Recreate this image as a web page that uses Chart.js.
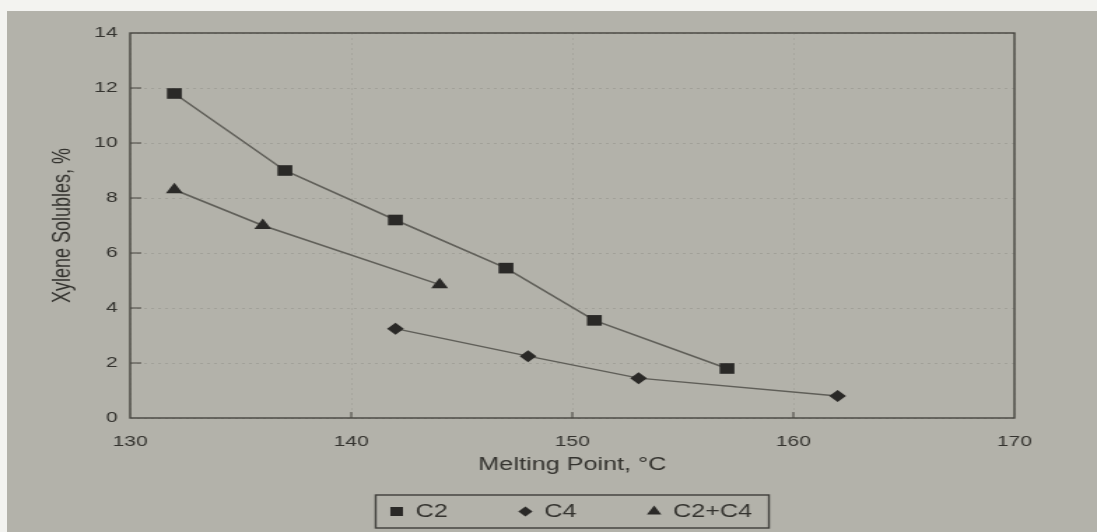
<!DOCTYPE html>
<html>
<head>
<meta charset="utf-8">
<title>Xylene Solubles vs Melting Point</title>
<script src="https://cdn.jsdelivr.net/npm/chart.js@4/dist/chart.umd.min.js"></script>
<style>
  html, body { margin: 0; padding: 0; width: 1097px; height: 532px; overflow: hidden; background: #f3f3f0; }
  /* foglio grigio della scansione */
  #foglio { position: absolute; left: 7px; top: 11px; right: 0; bottom: 0; background: #b3b2aa; }
  /* il grafico originale e' allargato in orizzontale */
  #contenitore { position: absolute; left: 7px; top: 11px; width: 779px; height: 521px;
                 transform: scaleX(1.3992); transform-origin: 0 0; }
</style>
</head>
<body>
<div id="foglio"></div>
<div id="contenitore"><canvas id="grafico"></canvas></div>
<script>
// Punto di fusione (°C) e xilene solubili (%) per ogni comonomero
const fusioneC2 = [132, 137, 142, 147, 151, 157];
const solubiliC2 = [11.8, 9.0, 7.2, 5.45, 3.55, 1.8];
const fusioneC4 = [142, 148, 153, 162];
const solubiliC4 = [3.25, 2.25, 1.45, 0.8];
const fusioneC2C4 = [132, 136, 144];
const solubiliC2C4 = [8.3, 7.0, 4.85];

const ticksX = [130, 140, 150, 160, 170];
const ticksY = [0, 2, 4, 6, 8, 10, 12, 14];

const FONT = '"Liberation Sans", Arial, sans-serif';
const COLORE_TESTO = '#34332f';
const COLORE_LINEA = '#5f5e58';
const COLORE_SIMBOLO = '#2a2927';

Chart.defaults.font.family = FONT;
Chart.defaults.color = COLORE_TESTO;

// Coppie {x, y} per ogni serie
function punti(xs, ys) {
    return xs.map((x, i) => ({ x: x, y: ys[i] }));
}

// Cornice del grafico e tacche interne sugli assi
const cornice = {
    id: 'cornice',
    beforeDatasetsDraw(chart) {
        const { ctx, chartArea: a, scales } = chart;
        ctx.save();
        ctx.strokeStyle = '#46453f';
        ctx.lineWidth = 1.4;
        ctx.strokeRect(a.left, a.top, a.right - a.left, a.bottom - a.top);
        ctx.lineWidth = 1;
        ctx.beginPath();
        ticksY.slice(1, -1).forEach(v => {
            const y = scales.y.getPixelForValue(v);
            ctx.moveTo(a.left, y);
            ctx.lineTo(a.left + 8, y);
        });
        ticksX.slice(1, -1).forEach(v => {
            const x = scales.x.getPixelForValue(v);
            ctx.moveTo(x, a.bottom);
            ctx.lineTo(x, a.bottom - 6);
        });
        ctx.stroke();
        ctx.restore();
    }
};

// Legenda in un riquadro sotto il titolo dell'asse x
const legendaRiquadro = {
    id: 'legendaRiquadro',
    afterDraw(chart) {
        const { ctx, chartArea: a } = chart;
        ctx.save();
        ctx.font = '18px ' + FONT;
        const voci = chart.data.datasets.map(ds => ({ ds: ds, w: ctx.measureText(ds.label).width }));
        const margineSx = 9.5, simbolo = 19, spazio = 50, margineDx = 12, alto = 33;
        let larghezza = margineSx + margineDx;
        voci.forEach((v, i) => {
            larghezza += simbolo + v.w + (i < voci.length - 1 ? spazio : 0);
        });
        const x0 = (a.left + a.right) / 2 - larghezza / 2;
        const y0 = chart.height - 37;
        ctx.strokeStyle = '#3f3e3a';
        ctx.lineWidth = 1.4;
        ctx.strokeRect(x0, y0, larghezza, alto);

        const yc = y0 + alto / 2;
        let x = x0 + margineSx;
        voci.forEach(v => {
            ctx.fillStyle = COLORE_SIMBOLO;
            Chart.helpers.drawPoint(ctx, {
                pointStyle: v.ds.pointStyle,
                radius: v.ds.pointRadius * 0.85,
                rotation: 0,
                borderWidth: 0
            }, x + 5.5, yc);
            ctx.fillStyle = COLORE_TESTO;
            ctx.textBaseline = 'middle';
            ctx.textAlign = 'left';
            ctx.fillText(v.ds.label, x + simbolo, yc + 1);
            x += simbolo + v.w + spazio;
        });
        ctx.restore();
    }
};

function serie(label, xs, ys, stile, raggio) {
    return {
        label: label,
        data: punti(xs, ys),
        borderColor: COLORE_LINEA,
        borderWidth: 1.5,
        backgroundColor: COLORE_SIMBOLO,
        pointBackgroundColor: COLORE_SIMBOLO,
        pointBorderWidth: 0,
        pointStyle: stile,
        pointRadius: raggio,
        pointHoverRadius: raggio,
        tension: 0,
        fill: false
    };
}

const ctx = document.getElementById('grafico').getContext('2d');
new Chart(ctx, {
    type: 'line',
    data: {
        datasets: [
            serie('C2', fusioneC2, solubiliC2, 'rect', 7.5),
            serie('C4', fusioneC4, solubiliC4, 'rectRot', 6),
            serie('C2+C4', fusioneC2C4, solubiliC2C4, 'triangle', 7)
        ]
    },
    options: {
        responsive: true,
        maintainAspectRatio: false,
        animation: false,
        layout: { padding: { top: 22, right: 59, bottom: 54, left: 0 } },
        plugins: {
            legend: { display: false },
            tooltip: { enabled: false }
        },
        scales: {
            x: {
                type: 'linear',
                min: 130,
                max: 170,
                afterBuildTicks: scala => { scala.ticks = ticksX.map(v => ({ value: v })); },
                afterFit: scala => { scala.height = 60; },
                ticks: { font: { size: 15 }, padding: 15, maxRotation: 0, color: COLORE_TESTO },
                grid: { drawTicks: false, color: 'rgba(70, 70, 60, 0.10)', lineWidth: 1 },
                border: { display: false, dash: [2, 3] },
                title: {
                    display: true,
                    text: 'Melting Point, °C',
                    font: { size: 18 },
                    padding: { top: 0, bottom: 2 },
                    color: COLORE_TESTO
                }
            },
            y: {
                min: 0,
                max: 14,
                afterBuildTicks: scala => { scala.ticks = ticksY.map(v => ({ value: v })); },
                afterFit: scala => { scala.width = 88; },
                ticks: { font: { size: 15 }, padding: 9, color: COLORE_TESTO },
                grid: { drawTicks: false, color: 'rgba(70, 70, 60, 0.16)', lineWidth: 1 },
                border: { display: false, dash: [2, 3] },
                title: {
                    display: true,
                    text: 'Xylene Solubles, %',
                    font: { size: 18 },
                    padding: { top: 29, bottom: 0 },
                    color: COLORE_TESTO
                }
            }
        }
    },
    plugins: [cornice, legendaRiquadro]
});
</script>
</body>
</html>
